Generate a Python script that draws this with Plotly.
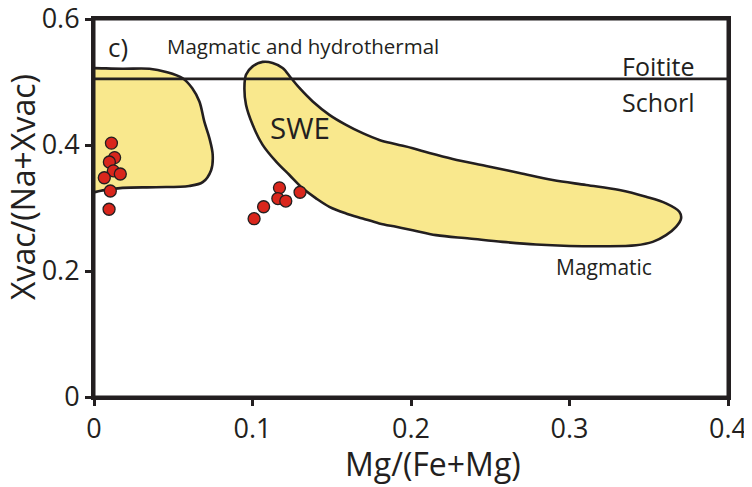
import plotly.graph_objects as go

# ---- data ----
x_ticks = [0, 0.1, 0.2, 0.3, 0.4]
x_ticktext = ["0", "0.1", "0.2", "0.3", "0.4"]
y_ticks = [0, 0.2, 0.4, 0.6]
y_ticktext = ["0", "0.2", "0.4", "0.6"]

# boundary Foitite / Schorl
divider_x = [0, 0.4]
divider_y = [0.505, 0.505]

# field: "Magmatic and hydrothermal" (left)
left_x = [-0.005, 0.0, 0.018, 0.035, 0.0455, 0.056, 0.062, 0.0665, 0.0696, 0.0728,
          0.0749, 0.0739, 0.0686, 0.060, 0.039, 0.018, 0.0055, 0.0, -0.005, -0.005]
left_y = [0.522, 0.522, 0.521, 0.521, 0.516, 0.506, 0.490, 0.469, 0.437, 0.411,
          0.384, 0.360, 0.341, 0.335, 0.333, 0.332, 0.328, 0.325, 0.325, 0.522]

# field: SWE / Magmatic
swe_x = [0.0959, 0.1001, 0.1064, 0.1127, 0.1190, 0.1243, 0.1296, 0.1380, 0.1485, 0.1590,
         0.1695, 0.1800, 0.1906, 0.2011, 0.2116, 0.2263, 0.2474, 0.2684, 0.2894, 0.3105,
         0.3315, 0.3483, 0.3609, 0.3693, 0.3704, 0.3672, 0.3609, 0.3525, 0.3420, 0.3209,
         0.2999, 0.2789, 0.2578, 0.2368, 0.2158, 0.2011, 0.1906, 0.1800, 0.1695, 0.1590,
         0.1485, 0.1401, 0.1317, 0.1233, 0.1149, 0.1064, 0.1001, 0.0959, 0.0949, 0.0959]
swe_y = [0.5116, 0.5248, 0.5319, 0.5303, 0.5223, 0.5064, 0.4905, 0.4691, 0.4479, 0.4320,
         0.4188, 0.4081, 0.4013, 0.3949, 0.3874, 0.3779, 0.3667, 0.3556, 0.3444, 0.3365,
         0.3285, 0.3178, 0.3073, 0.2940, 0.2834, 0.2701, 0.2569, 0.2462, 0.2409, 0.2393,
         0.2398, 0.2420, 0.2462, 0.2516, 0.2569, 0.2648, 0.2701, 0.2755, 0.2834, 0.2914,
         0.3019, 0.3153, 0.3312, 0.3524, 0.3736, 0.4002, 0.4320, 0.4639, 0.4905, 0.5116]

# tourmaline samples
sample_x = [0.011, 0.013, 0.0097, 0.0122, 0.0166, 0.0065, 0.0103, 0.0095,
            0.117, 0.130, 0.116, 0.121, 0.107, 0.101]
sample_y = [0.403, 0.380, 0.373, 0.359, 0.354, 0.348, 0.327, 0.298,
            0.332, 0.325, 0.315, 0.311, 0.302, 0.283]

FONT = "Open Sans"
INK = "#231f20"
FILL = "#f9e88d"

fig = go.Figure()
for fx, fy in [(left_x, left_y), (swe_x, swe_y)]:
    fig.add_trace(go.Scatter(
        x=fx, y=fy, mode="lines", fill="toself", fillcolor=FILL,
        line=dict(color=INK, width=2.6, shape="spline", smoothing=1.0),
        hoverinfo="skip", showlegend=False))

fig.add_trace(go.Scatter(
    x=divider_x, y=divider_y, mode="lines",
    line=dict(color=INK, width=2.6), hoverinfo="skip", showlegend=False))

fig.add_trace(go.Scatter(
    x=sample_x, y=sample_y, mode="markers",
    marker=dict(size=12, color="#d9261c", line=dict(color=INK, width=1.3)),
    showlegend=False))

annotations = [
    dict(x=0.015, y=0.556, text="c)", font_size=26),
    dict(x=0.132, y=0.557, text="Magmatic and hydrothermal", font_size=20.5),
    dict(x=0.356, y=0.525, text="Foitite", font_size=25),
    dict(x=0.356, y=0.469, text="Schorl", font_size=25),
    dict(x=0.130, y=0.427, text="SWE", font_size=29.5),
    dict(x=0.322, y=0.206, text="Magmatic", font_size=21),
]
for a in annotations:
    fig.add_annotation(x=a["x"], y=a["y"], text=a["text"], showarrow=False,
                       xref="x", yref="y", xanchor="center", yanchor="middle",
                       font=dict(family=FONT, size=a["font_size"], color=INK))

# layout geometry (page has an 8px body offset)
W, H = 752, 487
OFF = 8
L, R, T, B = 94 - OFF, 24 + OFF, 19 - OFF, 90 + OFF
PW, PH = W - L - R, H - T - B


def px_to_paper(px, py):
    return (px - OFF - L) / PW, (H - (py - OFF) - B) / PH


tx, ty = px_to_paper(433, 463)
fig.add_annotation(x=tx, y=ty, xref="paper", yref="paper", text="Mg/(Fe+Mg)",
                   xanchor="center", yanchor="middle", showarrow=False,
                   font=dict(family=FONT, size=32, color=INK))
tx, ty = px_to_paper(22, 187)
fig.add_annotation(x=tx, y=ty, xref="paper", yref="paper", text="Xvac/(Na+Xvac)",
                   xanchor="center", yanchor="middle", textangle=-90, showarrow=False,
                   font=dict(family=FONT, size=32, color=INK))

fig.add_shape(type="rect", xref="paper", yref="paper", x0=0, x1=1, y0=0, y1=1,
              line=dict(color=INK, width=3), layer="above")

axis_common = dict(showline=True, linewidth=3, linecolor=INK, mirror=True,
                   ticks="outside", ticklen=6, tickwidth=3, tickcolor=INK,
                   showgrid=False, zeroline=False, automargin=False,
                   ticklabeloverflow="allow",
                   tickfont=dict(family=FONT, size=27, color=INK))

fig.update_layout(
    width=W, height=H,
    margin=dict(l=L, r=R, t=T, b=B, autoexpand=False),
    paper_bgcolor="white", plot_bgcolor="white",
    xaxis=dict(range=[0, 0.4], tickvals=x_ticks, ticktext=x_ticktext, **axis_common),
    yaxis=dict(range=[0, 0.6], tickvals=y_ticks, ticktext=y_ticktext, **axis_common),
)

fig.write_html("out.html")
